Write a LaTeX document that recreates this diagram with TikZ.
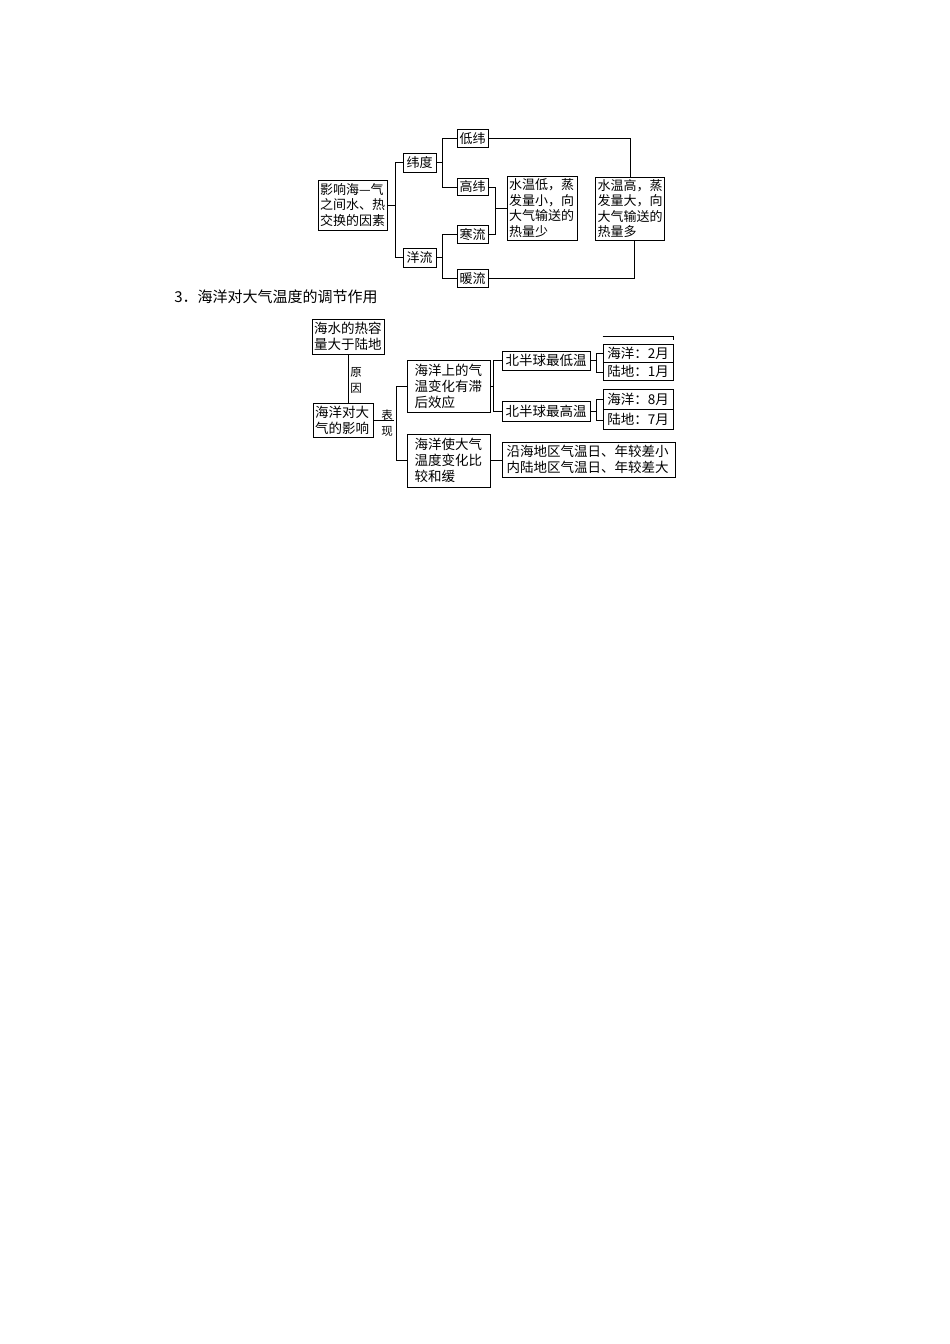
\documentclass[tikz,border=0pt]{standalone}
\usepackage{fontspec}
\newfontfamily\cjk{Noto Sans CJK SC}
\usetikzlibrary{positioning}
\begin{document}
\begin{tikzpicture}[x=1pt, y=-1pt, line width=0.6pt,
    kbox/.style={rectangle, draw, line width=0.8pt, inner sep=2pt, font=\cjk\fontsize{13}{15.5}\selectfont},
    mbox/.style={rectangle, draw, line width=0.8pt, inner sep=2pt, font=\cjk\fontsize{13.5}{16}\selectfont},
    lab/.style={inner sep=0pt, align=center, font=\cjk\fontsize{11.5}{16}\selectfont}]
    \useasboundingbox (0,0) rectangle (950,1344);

    % primo schema: nodi
    \node (fac) [kbox, text width=65pt, align=left, minimum height=50pt] at (352.5,205) {影响海—气\\之间水、热\\交换的因素};
    \node (wd) [kbox, minimum width=33pt, minimum height=19pt] at (419.5,162.5) {纬度};
    \node (yl) [kbox, minimum width=33pt, minimum height=19pt] at (419.5,257.5) {洋流};
    \node (dw) [kbox, minimum width=31pt, minimum height=17.5pt] at (472.5,138.5) {低纬};
    \node (gw) [kbox, minimum width=31pt, minimum height=17.5pt] at (472.5,187) {高纬};
    \node (hl) [kbox, minimum width=31pt, minimum height=17.5pt] at (472.5,234.5) {寒流};
    \node (nl) [kbox, minimum width=31pt, minimum height=17.5pt] at (472.5,278.5) {暖流};
    \node (sdi) [kbox, text width=66pt, align=left, minimum height=64pt] at (542,208) {水温低，蒸\\发量小，向\\大气输送的\\热量少};
    \node (sgao) [kbox, text width=65pt, align=left, minimum height=63pt] at (630,208.5) {水温高，蒸\\发量大，向\\大气输送的\\热量多};

    % primo schema: collegamenti
    \draw (fac.east) -- ++(9,0);
    \draw (wd.west) -- ++(-7,0) |- (yl.west);
    \draw (wd.east) -- ++(7,0);
    \draw (dw.west) -- ++(-14,0) |- (gw.west);
    \draw (yl.east) -- ++(7,0);
    \draw (hl.west) -- ++(-14,0) |- (nl.west);
    \draw (gw.east) -- ++(7,0) |- (hl.east);
    \draw (sdi.west) -- ++(-11,0);
    \draw (dw.east) -| (sgao.north);
    \draw (nl.east) -| ([xshift=4pt]sgao.south);

    % titolo
    \node (tit) [anchor=west, inner sep=0pt, font=\cjk\fontsize{15}{18}\selectfont] at (174,297) {3．海洋对大气温度的调节作用};

    % secondo schema: nodi
    \node (rl) [mbox, text width=68pt, align=left, minimum height=35pt] at (348,336.5) {海水的热容\\量大于陆地};
    \node (yx) [mbox, text width=56pt, align=left, minimum height=34pt] at (343,420) {海洋对大\\气的影响};
    \node (zh) [mbox, text width=68pt, align=left, minimum width=83pt, minimum height=52pt] at (448.5,386) {海洋上的气\\温变化有滞\\后效应};
    \node (hh) [mbox, text width=68pt, align=left, minimum width=83pt, minimum height=53pt] at (448.5,460.5) {海洋使大气\\温度变化比\\较和缓};
    \node (zd) [mbox, minimum width=88pt, minimum height=19pt] at (546,360.5) {北半球最低温};
    \node (zg) [mbox, minimum width=88pt, minimum height=20pt] at (546,411) {北半球最高温};
    \node (o2) [mbox, minimum width=70pt, minimum height=18pt] at (638,353) {海洋：2月};
    \node (l1) [mbox, minimum width=70pt, minimum height=18pt, below=0pt of o2] {陆地：1月};
    \node (o8) [mbox, minimum width=70pt, minimum height=20pt] at (638,399) {海洋：8月};
    \node (l7) [mbox, minimum width=70pt, minimum height=20pt, below=0pt of o8] {陆地：7月};
    \node (yh) [mbox, text width=164pt, align=left, minimum width=173pt, minimum height=35pt] at (588.5,459.5) {沿海地区气温日、年较差小\\内陆地区气温日、年较差大};
    \node (yy) [lab] at (356,380) {原\\因};
    \node (bx) [lab] at (387,423) {表\\现};

    % secondo schema: collegamenti
    \draw (rl.south) -- (rl.south |- yx.north);
    \draw (yx.east) -- ++(21,0);
    \draw (zh.west) -- ++(-10,0) |- (hh.west);
    \draw (zh.east) -- ++(4,0);
    \draw (zd.west) -- ++(-8,0) |- (zg.west);
    \draw (zd.east) -- ++(7,0);
    \draw (o2.west) -- ++(-6,0) |- (l1.west);
    \draw (zg.east) -- ++(7,0);
    \draw (o8.west) -- ++(-6,0) |- (l7.west);
    \draw (hh.east) -- (hh.east -| yh.west);
    \draw ([yshift=7pt]o2.north west) -- ([yshift=7pt]o2.north east) -- ++(0,3);
\end{tikzpicture}
\end{document}
